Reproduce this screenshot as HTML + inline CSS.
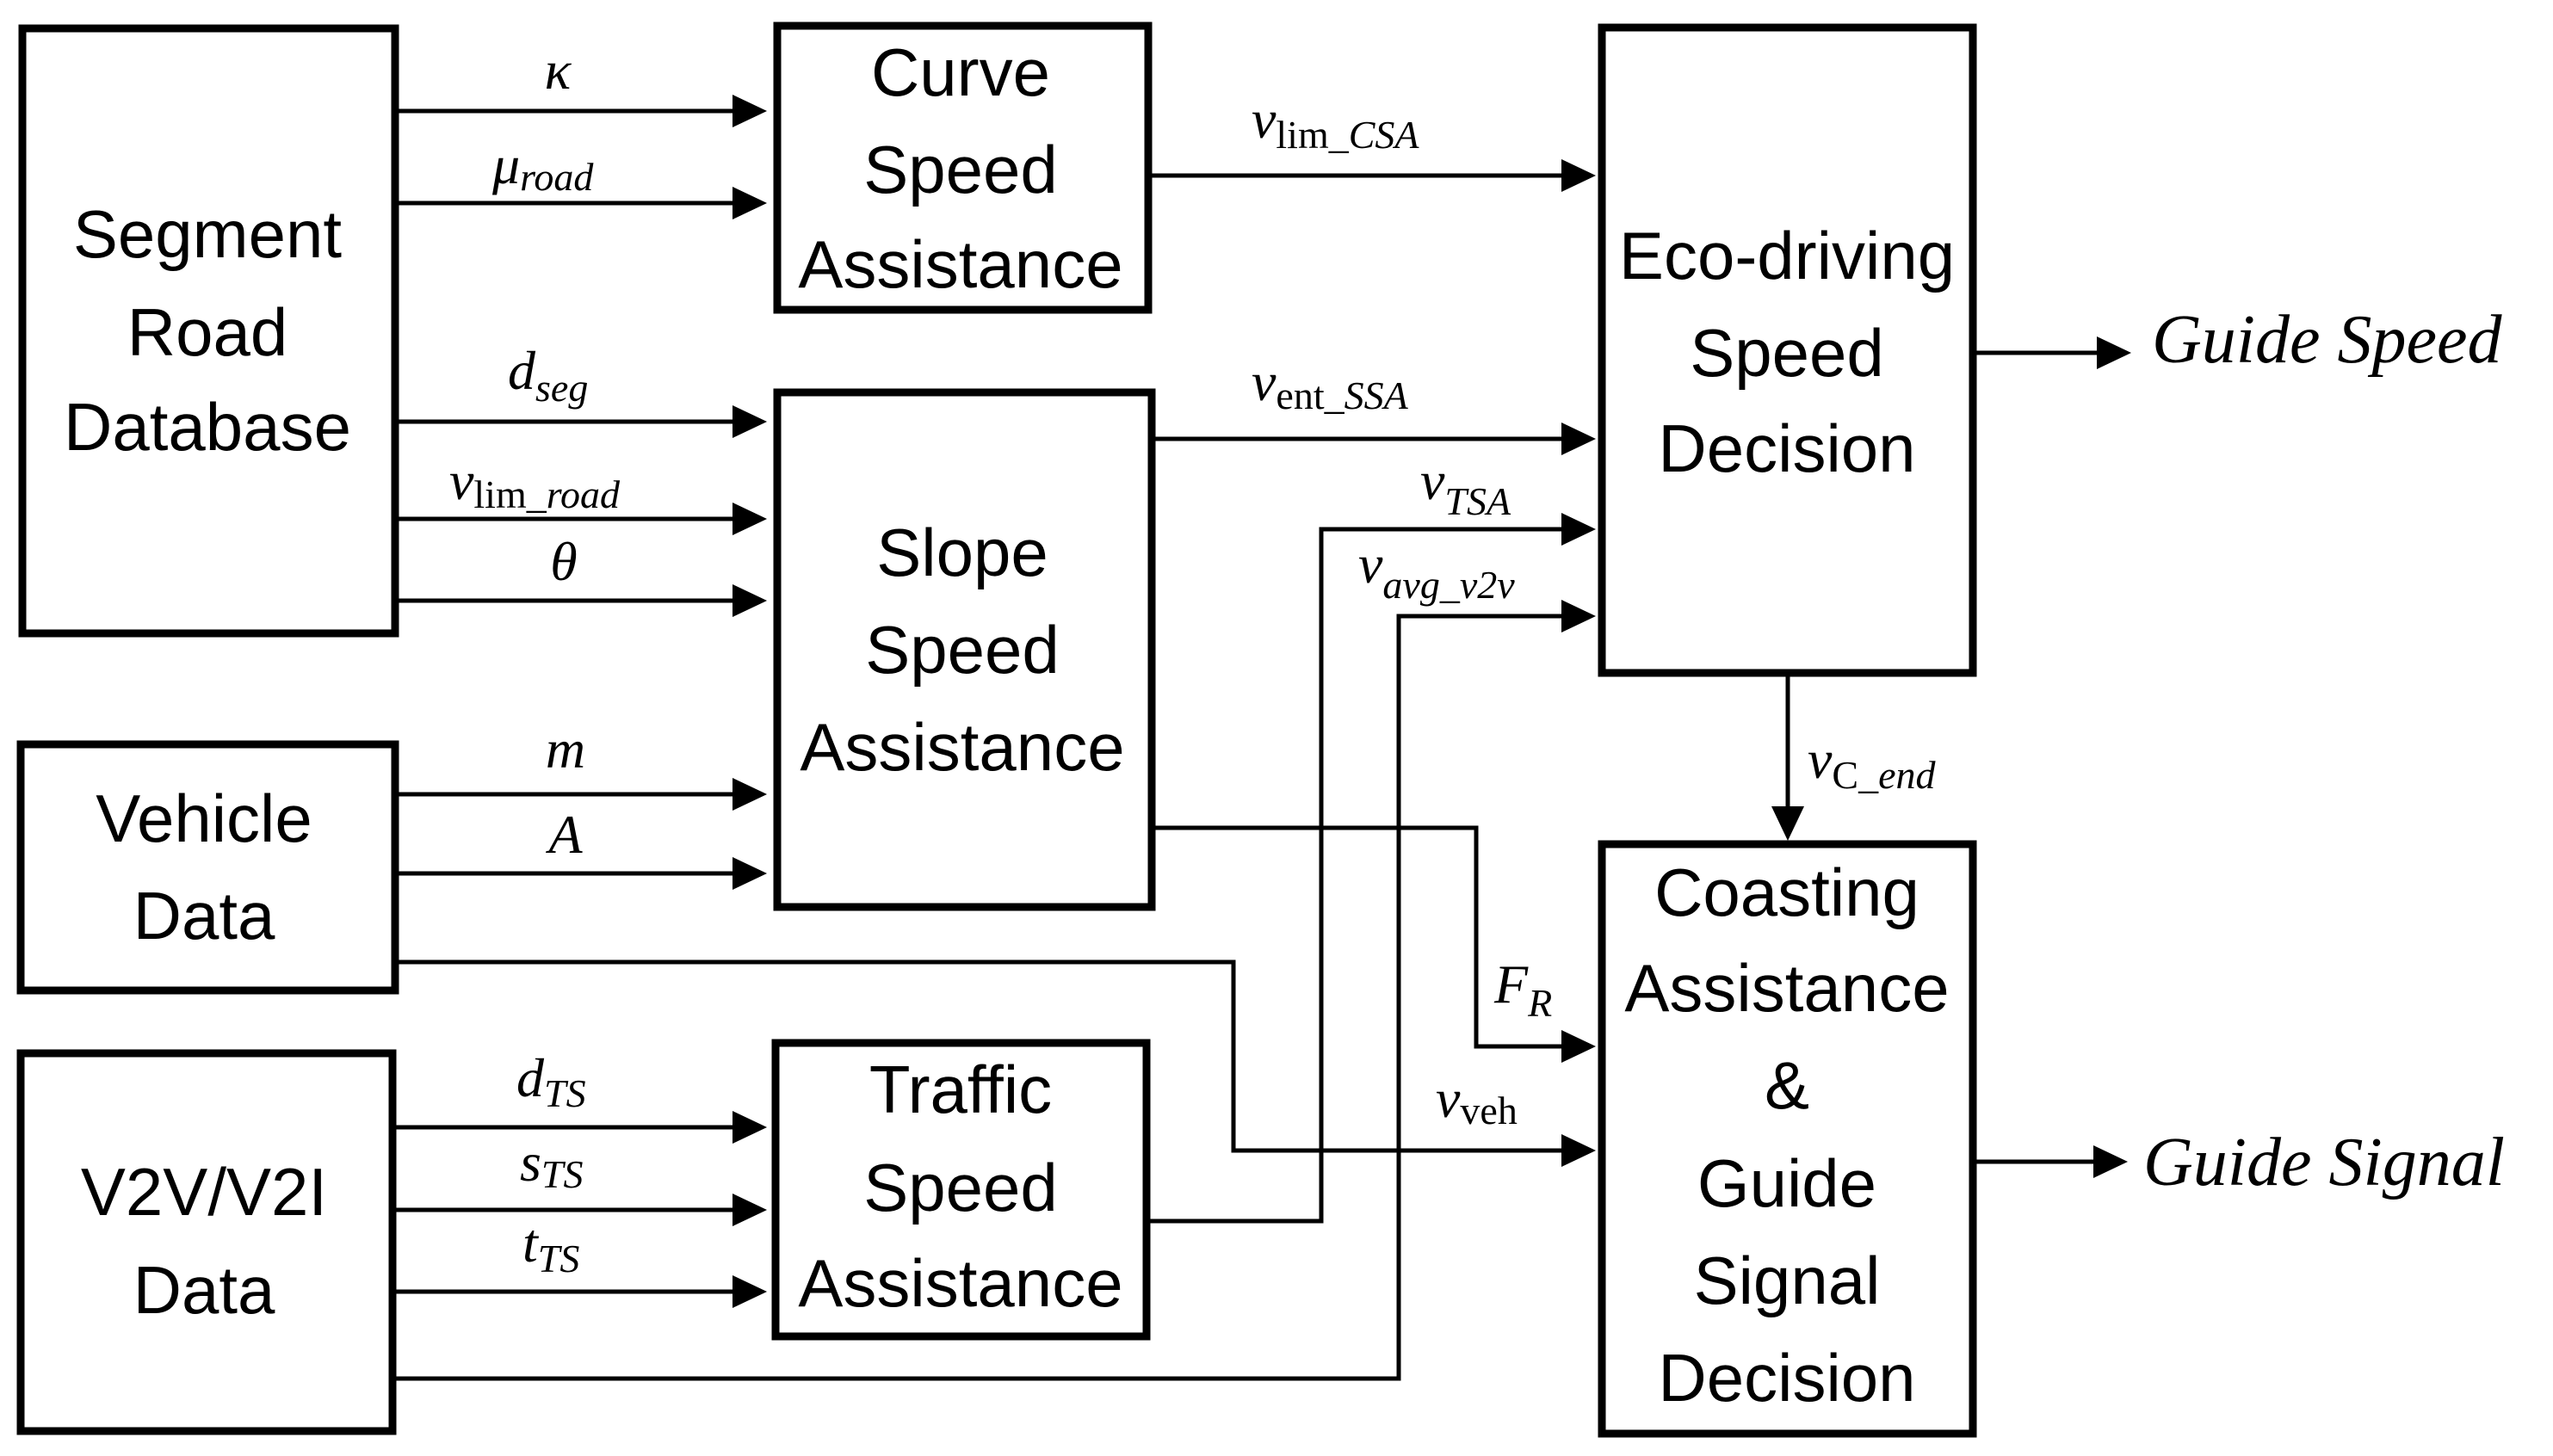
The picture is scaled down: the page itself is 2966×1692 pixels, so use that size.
<!DOCTYPE html>
<html><head><meta charset="utf-8"><style>html,body{margin:0;padding:0;background:#fff}svg{display:block}
.b{fill:none;stroke:#000;stroke-width:9}
.l{fill:none;stroke:#000;stroke-width:5}
.t{font-family:"Liberation Sans",Arial,sans-serif;font-size:78px;text-anchor:middle}
.m{font-family:"Liberation Serif",serif;font-style:italic;font-size:64px}
.s{font-size:46px}
.r{font-style:normal}
</style></head><body>
<svg width="2966" height="1692" viewBox="0 0 2966 1692" xmlns="http://www.w3.org/2000/svg">
<rect class="b" x="26" y="33" width="433" height="703"/>
<rect class="b" x="903" y="30" width="431" height="330"/>
<rect class="b" x="903" y="456" width="435" height="598"/>
<rect class="b" x="24" y="865" width="435" height="286"/>
<rect class="b" x="24" y="1224" width="432" height="439"/>
<rect class="b" x="901" y="1212" width="431" height="341"/>
<rect class="b" x="1861" y="32" width="431" height="750"/>
<rect class="b" x="1861" y="981" width="431" height="685"/>

<g class="t">
<text x="241" y="299">Segment</text><text x="241" y="413">Road</text><text x="241" y="523">Database</text>
<text x="1116" y="111">Curve</text><text x="1116" y="224">Speed</text><text x="1116" y="334">Assistance</text>
<text x="1118" y="669">Slope</text><text x="1118" y="782">Speed</text><text x="1118" y="895">Assistance</text>
<text x="237" y="978">Vehicle</text><text x="237" y="1091">Data</text>
<text x="237" y="1412">V2V/V2I</text><text x="237" y="1526">Data</text>
<text x="1116" y="1293">Traffic</text><text x="1116" y="1407">Speed</text><text x="1116" y="1518">Assistance</text>
<text x="2076" y="324">Eco-driving</text><text x="2076" y="437">Speed</text><text x="2076" y="548">Decision</text>
<text x="2076" y="1064">Coasting</text><text x="2076" y="1175">Assistance</text><text x="2076" y="1288">&amp;</text><text x="2076" y="1402">Guide</text><text x="2076" y="1515">Signal</text><text x="2076" y="1628">Decision</text>
</g>

<g class="l">
<path d="M459 129H855"/><path d="M459 236H855"/>
<path d="M459 490H855"/><path d="M459 603H855"/><path d="M459 698H855"/>
<path d="M459 923H855"/><path d="M459 1015H855"/>
<path d="M456 1310H855"/><path d="M456 1406H855"/><path d="M456 1501H855"/>
<path d="M1334 204H1818"/><path d="M1338 510H1818"/>
<path d="M1332 1419H1535V615H1818"/>
<path d="M456 1602H1625V716H1818"/>
<path d="M1338 962H1715V1216H1818"/>
<path d="M459 1118H1433V1337H1818"/>
<path d="M2292 410H2440"/><path d="M2292 1350H2436"/>
<path d="M2077 782V940"/>
</g>
<g>
<path d="M851 110L891 129L851 148z"/><path d="M851 217L891 236L851 255z"/>
<path d="M851 471L891 490L851 509z"/><path d="M851 584L891 603L851 622z"/><path d="M851 679L891 698L851 717z"/>
<path d="M851 904L891 923L851 942z"/><path d="M851 996L891 1015L851 1034z"/>
<path d="M851 1291L891 1310L851 1329z"/><path d="M851 1387L891 1406L851 1425z"/><path d="M851 1482L891 1501L851 1520z"/>
<path d="M1814 185L1854 204L1814 223z"/><path d="M1814 491L1854 510L1814 529z"/>
<path d="M1814 596L1854 615L1814 634z"/><path d="M1814 697L1854 716L1814 735z"/>
<path d="M1814 1197L1854 1216L1814 1235z"/><path d="M1814 1318L1854 1337L1814 1356z"/>
<path d="M2436 391L2476 410L2436 429z"/><path d="M2432 1331L2472 1350L2432 1369z"/>
<path d="M2058 937L2077 977L2096 937z"/>
</g>

<g class="m">
<text x="648" y="103" text-anchor="middle">κ</text>
<text x="572" y="213">μ<tspan class="s" dy="8">road</tspan></text>
<text x="590" y="452">d<tspan class="s" dy="14">seg</tspan></text>
<text x="522" y="580">v<tspan class="s r" dy="10">lim</tspan><tspan class="s" >_road</tspan></text>
<text x="655" y="674" text-anchor="middle">θ</text>
<text x="657" y="892" text-anchor="middle">m</text>
<text x="657" y="991" text-anchor="middle">A</text>
<text x="600" y="1274">d<tspan class="s" dy="12">TS</tspan></text>
<text x="604" y="1372">s<tspan class="s" dy="8">TS</tspan></text>
<text x="607" y="1466">t<tspan class="s" dy="12">TS</tspan></text>
<text x="1454" y="160">v<tspan class="s r" dy="12">lim_</tspan><tspan class="s">CSA</tspan></text>
<text x="1454" y="465">v<tspan class="s r" dy="10">ent_</tspan><tspan class="s">SSA</tspan></text>
<text x="1650" y="580">v<tspan class="s" dy="18">TSA</tspan></text>
<text x="1578" y="677">v<tspan class="s" dy="18">avg_v2v</tspan></text>
<text x="2100" y="904">v<tspan class="s r" dy="12">C_</tspan><tspan class="s">end</tspan></text>
<text x="1736" y="1165">F<tspan class="s" dy="16">R</tspan></text>
<text x="1668" y="1298">v<tspan class="s r" dy="8">veh</tspan></text>
<text x="2500" y="421" style="font-size:80px">Guide Speed</text>
<text x="2490" y="1377" style="font-size:80px">Guide Signal</text>
</g>
</svg>
</body></html>
